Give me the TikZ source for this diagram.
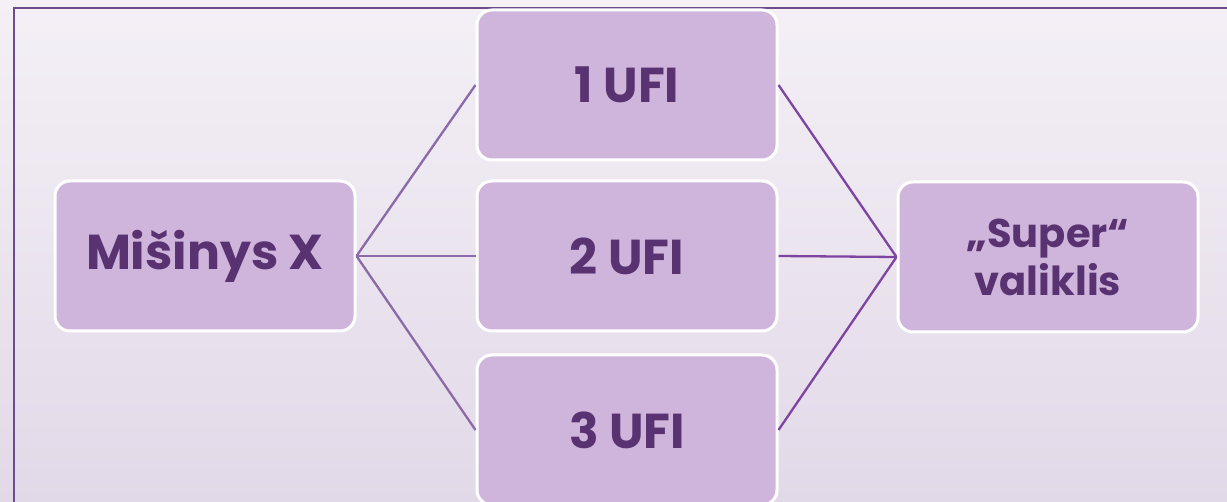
\documentclass[tikz,border=0pt]{standalone}
\usepackage{fontspec}
\setmainfont{Poppins}
\usepackage{tikz}
\usetikzlibrary{
  arrows.meta,
  positioning,
  calc
}
\definecolor{bgtop}{HTML}{F4F0F6}
\definecolor{bgbottom}{HTML}{E2D9E8}
\definecolor{framecolor}{HTML}{6E4C8C}
\definecolor{boxcolor}{HTML}{CFB5DB}
\definecolor{textcolor}{HTML}{583271}
\definecolor{leftline}{HTML}{8A6AA8}
\definecolor{rightline}{HTML}{7E44A2}

\begin{document}
\begin{tikzpicture}[
  x=1pt, y=-1pt,
  stage/.style={draw=white, line width=3pt, fill=boxcolor, rounded corners=15pt,
                minimum width=300pt, minimum height=150pt,
                font=\fontsize{49}{54}\selectfont\bfseries, text=textcolor, align=center},
  final/.style={stage, font=\fontsize{40}{48}\selectfont\bfseries},
  inlink/.style={leftline, line width=2.3pt},
  outlink/.style={rightline, line width=2.3pt},
]

  % background
  \useasboundingbox (0,0) rectangle (1227,502);
  \shade[top color=bgtop, bottom color=bgbottom] (0,0) rectangle (1227,502);
  \draw[framecolor, line width=2pt] (1240,8) -- (14,8) -- (14,520);

  % stages
  \node[stage] (mix) at (205,256) {Mišinys X};
  \node[stage] (u1) at (627,85) {1 UFI};
  \node[stage] (u2) at (627,256) {2 UFI};
  \node[stage] (u3) at (627,430) {3 UFI};
  \node[final] (cleaner) at (1048,257) {„Super“\\valiklis};

  % links
  \foreach \u in {u1, u2, u3} {
    \draw[inlink] (mix.east) -- (\u.west);
    \draw[outlink] (\u.east) -- (cleaner.west);
  }

\end{tikzpicture}
\end{document}
